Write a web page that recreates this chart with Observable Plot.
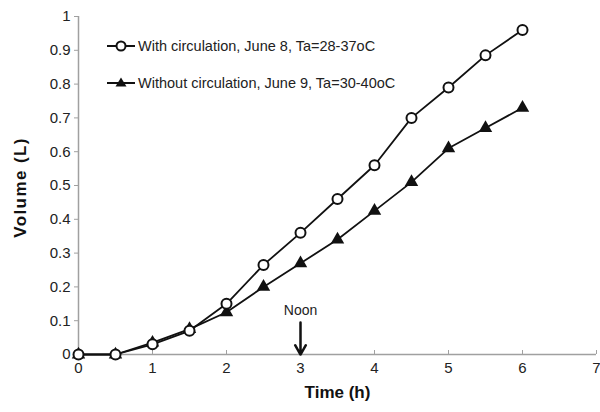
<!DOCTYPE html>
<html><head><meta charset="utf-8">
<script src="https://cdn.jsdelivr.net/npm/d3@7"></script>
<script src="https://cdn.jsdelivr.net/npm/@observablehq/plot@0.6"></script>
<style>
body{margin:0;background:#fff;font-family:"Liberation Sans",Arial,sans-serif;}
#wrap{position:relative;width:600px;height:412px;}
#legend{position:absolute;left:0;top:0;font-size:14.5px;color:#222;}
.axlab text{font-weight:bold;font-size:17px;fill:#111;}
.ylab text{letter-spacing:1.4px;}
</style></head>
<body><div id="wrap"><div id="chart"></div><div id="legend"></div></div>
<script>
const times = [0, 0.5, 1, 1.5, 2, 2.5, 3, 3.5, 4, 4.5, 5, 5.5, 6];
const withCirc = [0, 0, 0.03, 0.07, 0.15, 0.265, 0.36, 0.46, 0.56, 0.70, 0.79, 0.885, 0.96];
const withoutCirc = [0, 0, 0.035, 0.075, 0.125, 0.20, 0.27, 0.34, 0.425, 0.51, 0.61, 0.67, 0.73];
const seriesNames = ["With circulation, June 8, Ta=28-37oC", "Without circulation, June 9, Ta=30-40oC"];
const xTicks = [0, 1, 2, 3, 4, 5, 6, 7];
const yTicks = [0, 0.1, 0.2, 0.3, 0.4, 0.5, 0.6, 0.7, 0.8, 0.9, 1];
const noon = {label: "Noon", x: 3, yFrom: 0.095, yTo: 0};

const A = times.map((t, i) => ({t, v: withCirc[i]}));
const B = times.map((t, i) => ({t, v: withoutCirc[i]}));
const fmt = d => String(+d.toFixed(1));

const chart = Plot.plot({
  width: 600, height: 412,
  marginLeft: 78, marginRight: 4, marginTop: 16, marginBottom: 58,
  style: {fontFamily: '"Liberation Sans", Arial, sans-serif', fontSize: "15px", color: "#222"},
  x: {domain: [0, 7]},
  y: {domain: [0, 1]},
  marks: [
    Plot.ruleY([0], {stroke: "#a0a0a0", strokeWidth: 1.5}),
    Plot.ruleX([0], {stroke: "#a0a0a0", strokeWidth: 1.5}),
    Plot.axisX({ticks: xTicks, tickSize: -4, tickPadding: 12, tickFormat: fmt, label: null, stroke: "#a0a0a0", fill: "#222", fontSize: 15}),
    Plot.axisY({ticks: yTicks, tickSize: 4, tickPadding: 4, tickFormat: fmt, label: null, stroke: "#a0a0a0", fill: "#222", fontSize: 15}),
    Plot.text(["Time (h)"], {frameAnchor: "bottom", dy: 43, className: "axlab"}),
    Plot.text(["Volume (L)"], {frameAnchor: "left", textAnchor: "middle", dx: -58, dy: 2, rotate: -90, className: "axlab ylab"}),
    Plot.line(B, {x: "t", y: "v", stroke: "#111", strokeWidth: 1.8}),
    Plot.line(A, {x: "t", y: "v", stroke: "#111", strokeWidth: 1.8}),
    Plot.dot(B, {x: "t", y: "v", symbol: "triangle", r: 5, fill: "#111", stroke: "none"}),
    Plot.dot(A, {x: "t", y: "v", r: 5, fill: "white", stroke: "#111", strokeWidth: 2}),
    Plot.arrow([noon], {x1: "x", x2: "x", y1: "yFrom", y2: "yTo", stroke: "#111", strokeWidth: 2.5, headLength: 12, bend: 0}),
    Plot.text([noon], {x: "x", y: "yFrom", text: "label", dy: -12, fill: "#222", fontSize: 14})
  ]
});
document.getElementById("chart").appendChild(chart);

// legend overlay
const leg = document.getElementById("legend");
const rows = [
  {name: seriesNames[0], type: "circle", top: 36},
  {name: seriesNames[1], type: "triangle", top: 73}
];
leg.innerHTML = rows.map(r => `
  <div style="position:absolute;left:106px;top:${r.top}px;display:flex;align-items:center;white-space:nowrap;">
    <svg width="30" height="20" style="display:block">
      <line x1="1" y1="10" x2="29" y2="10" stroke="#111" stroke-width="2"/>
      ${r.type === "circle"
        ? '<circle cx="15" cy="10" r="4.5" fill="white" stroke="#111" stroke-width="2"/>'
        : '<path d="M15,4.5 L20.5,13.5 L9.5,13.5 Z" fill="#111"/>'}
    </svg><span style="margin-left:2px;">${r.name}</span>
  </div>`).join("");
</script></body></html>
